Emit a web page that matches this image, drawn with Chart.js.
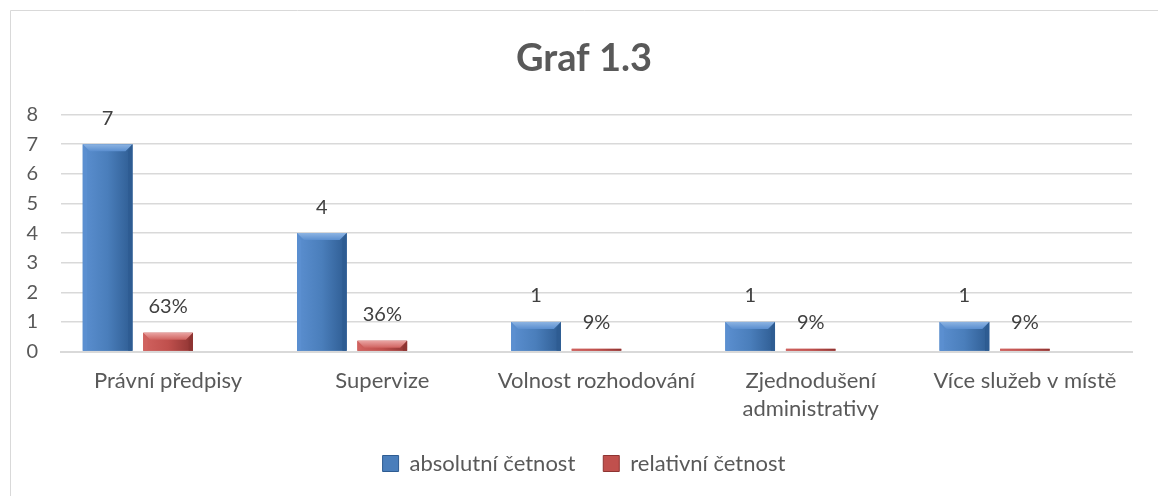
<!DOCTYPE html>
<html>
<head>
<meta charset="utf-8">
<script src="https://cdn.jsdelivr.net/npm/chart.js@4.4.1/dist/chart.umd.min.js"></script>
<style>
html,body{margin:0;padding:0;background:#fff;}
canvas{display:block;}
</style>
</head>
<body>
<canvas id="c" width="1158" height="496"></canvas>
<script>
const chartTitle = 'Graf 1.3';
const categories = ['Právní předpisy', 'Supervize', 'Volnost rozhodování', ['Zjednodušení', 'administrativy'], 'Více služeb v místě'];
const seriesNames = ['absolutní četnost', 'relativní četnost'];
const absoluteValues = [7, 4, 1, 1, 1];
const relativeValues = [0.63, 0.36, 0.09, 0.09, 0.09];
const emptySeries = [null, null, null, null, null];
const yTicks = [0, 1, 2, 3, 4, 5, 6, 7, 8];

const FONT = 'Lato, "Open Sans", sans-serif';
const palettes = [
  {base: '#4A7EBB', light: '#8DB4E2', mid: '#5B8FD0', dark: '#2E5C92'},
  {base: '#C0504D', light: '#E9A3A1', mid: '#D0625F', dark: '#8E3432'}
];

const framePlugin = {
  id: 'frame',
  beforeDraw(chart) {
    const ctx = chart.ctx;
    ctx.save();
    ctx.fillStyle = '#ffffff';
    ctx.fillRect(0, 0, chart.width, chart.height);
    ctx.strokeStyle = '#D9D9D9';
    ctx.lineWidth = 1;
    ctx.beginPath();
    ctx.moveTo(10.5, chart.height);
    ctx.lineTo(10.5, 10.5);
    ctx.lineTo(chart.width, 10.5);
    ctx.stroke();
    ctx.restore();
  }
};

const bevelPlugin = {
  id: 'bevel',
  afterDatasetDraw(chart, args) {
    const di = args.index;
    if (di > 1) return;
    const pal = palettes[di];
    const meta = args.meta;
    const ctx = chart.ctx;
    ctx.save();
    meta.data.forEach(el => {
      const p = el.getProps(['x', 'y', 'base', 'width'], true);
      if (p.y == null || isNaN(p.y)) return;
      const l = p.x - p.width / 2, r = p.x + p.width / 2;
      const t = Math.min(p.y, p.base), b = Math.max(p.y, p.base);
      const h = b - t;
      if (h <= 0) return;
      const g = ctx.createLinearGradient(l, 0, r, 0);
      g.addColorStop(0, pal.mid);
      g.addColorStop(0.5, pal.base);
      g.addColorStop(1, pal.dark);
      ctx.fillStyle = g;
      ctx.fillRect(l, t, r - l, h);
      const bv = Math.min(7, h, p.width / 2);
      if (h > 4) {
        const gt = ctx.createLinearGradient(0, t, 0, t + bv);
        gt.addColorStop(0, pal.light);
        gt.addColorStop(1, pal.mid);
        ctx.fillStyle = gt;
        ctx.beginPath();
        ctx.moveTo(l, t); ctx.lineTo(r, t); ctx.lineTo(r - bv, t + bv); ctx.lineTo(l + bv, t + bv); ctx.closePath();
        ctx.fill();
        ctx.fillStyle = pal.mid;
        ctx.beginPath();
        ctx.moveTo(l, t); ctx.lineTo(l + bv * 0.6, t + bv); ctx.lineTo(l + bv * 0.6, b); ctx.lineTo(l, b); ctx.closePath();
        ctx.fill();
        ctx.fillStyle = pal.dark;
        ctx.beginPath();
        ctx.moveTo(r, t); ctx.lineTo(r - bv * 0.6, t + bv); ctx.lineTo(r - bv * 0.6, b); ctx.lineTo(r, b); ctx.closePath();
        ctx.fill();
      }
    });
    ctx.restore();
  }
};

const labelPlugin = {
  id: 'valueLabels',
  afterDatasetsDraw(chart) {
    const ctx = chart.ctx;
    ctx.save();
    ctx.font = '20px ' + FONT;
    ctx.fillStyle = '#404040';
    ctx.textAlign = 'center';
    ctx.textBaseline = 'middle';
    [0, 1].forEach(di => {
      const meta = chart.getDatasetMeta(di);
      const data = chart.data.datasets[di].data;
      meta.data.forEach((el, i) => {
        const v = data[i];
        if (v == null) return;
        const txt = di === 0 ? String(v) : Math.round(v * 100) + '%';
        ctx.fillText(txt, el.x, el.y - 26);
      });
    });
    ctx.restore();
  }
};

new Chart(document.getElementById('c'), {
  type: 'bar',
  data: {
    labels: categories,
    datasets: [
      {label: seriesNames[0], data: absoluteValues, backgroundColor: palettes[0].base, borderWidth: 0},
      {label: seriesNames[1], data: relativeValues, backgroundColor: palettes[1].base, borderWidth: 0},
      {label: '', data: emptySeries, backgroundColor: 'rgba(0,0,0,0)', borderWidth: 0}
    ]
  },
  options: {
    responsive: false,
    animation: false,
    categoryPercentage: 0.847,
    barPercentage: 0.82,
    layout: {padding: {left: 10, right: 0, top: 0, bottom: 11.5}},
    plugins: {
      tooltip: {enabled: false},
      title: {
        display: true,
        text: chartTitle,
        color: '#595959',
        font: {family: FONT, size: 38, weight: 'bold', lineHeight: 1.2},
        padding: {top: 36, bottom: 33}
      },
      legend: {
        position: 'bottom',
        labels: {
          filter: item => item.datasetIndex < 2,
          color: '#595959',
          font: {family: FONT, size: 22},
          boxWidth: 16,
          boxHeight: 16,
          padding: 28,
          generateLabels(chart) {
            return chart.data.datasets.map((ds, i) => ({
              text: ds.label,
              fillStyle: i < 2 ? palettes[i].base : 'rgba(0,0,0,0)',
              strokeStyle: i < 2 ? palettes[i].dark : 'rgba(0,0,0,0)',
              lineWidth: 1,
              hidden: false,
              datasetIndex: i,
              fontColor: '#595959'
            }));
          }
        }
      }
    },
    scales: {
      x: {
        grid: {display: false, drawTicks: false},
        border: {display: true, color: '#D9D9D9', width: 2},
        ticks: {color: '#595959', font: {family: FONT, size: 22, lineHeight: 1.27}, padding: 15, maxRotation: 0, autoSkip: false},
        afterFit(s) { s.height = 73; }
      },
      y: {
        min: 0,
        max: 8,
        grid: {color: '#D9D9D9', lineWidth: 1.5, drawTicks: false},
        border: {display: false},
        afterBuildTicks(s) { s.ticks = yTicks.map(v => ({value: v})); },
        ticks: {color: '#595959', font: {family: FONT, size: 20}, padding: 23},
        afterFit(s) { s.width = 51; }
      },
      y2: {
        position: 'right',
        display: true,
        grid: {display: false, drawTicks: false},
        border: {display: false},
        ticks: {display: false},
        afterFit(s) { s.width = 26; }
      }
    }
  },
  plugins: [framePlugin, bevelPlugin, labelPlugin]
});
</script>
</body>
</html>
